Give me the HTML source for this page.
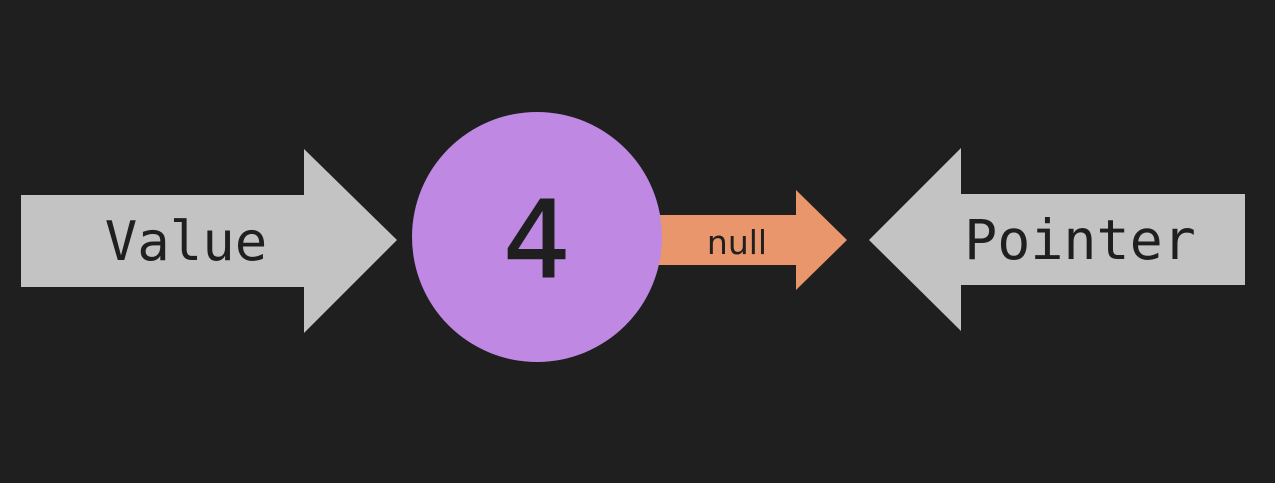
<!DOCTYPE html>
<html>
<head>
<meta charset="utf-8">
<style>
  html, body { margin: 0; padding: 0; background: #1f1f1f; }
  svg { display: block; }
</style>
</head>
<body>
<svg width="1275" height="483" viewBox="0 0 1275 483" xmlns="http://www.w3.org/2000/svg">
  <rect x="0" y="0" width="1275" height="483" fill="#1f1f1f"/>

  <g>
    <polygon points="21,195 304,195 304,149 397,240 304,333 304,287 21,287" fill="#c3c3c3"/>
    <text x="186" y="260" text-anchor="middle" font-family="'DejaVu Sans Mono', 'Liberation Mono', monospace" font-size="54" fill="#1f1f1f">Value</text>
  </g>

  <g>
    <polygon points="650,215 796,215 796,190 847,240 796,290 796,265 650,265" fill="#e9966c"/>
    <text x="737" y="254" text-anchor="middle" font-family="'DejaVu Sans', 'Liberation Sans', sans-serif" font-size="33" fill="#1f1f1f">null</text>
  </g>

  <g>
    <circle cx="537" cy="237" r="125" fill="#bf88e3"/>
    <text x="537" y="277" text-anchor="middle" font-family="'DejaVu Sans', 'Liberation Sans', sans-serif" font-size="106" fill="#1f1f1f" stroke="#1f1f1f" stroke-width="1.5">4</text>
  </g>

  <g>
    <polygon points="869,240 961,148 961,194 1245,194 1245,285 961,285 961,331" fill="#c3c3c3"/>
    <text x="1080" y="259" text-anchor="middle" font-family="'DejaVu Sans Mono', 'Liberation Mono', monospace" font-size="55" fill="#1f1f1f">Pointer</text>
  </g>
</svg>
</body>
</html>
